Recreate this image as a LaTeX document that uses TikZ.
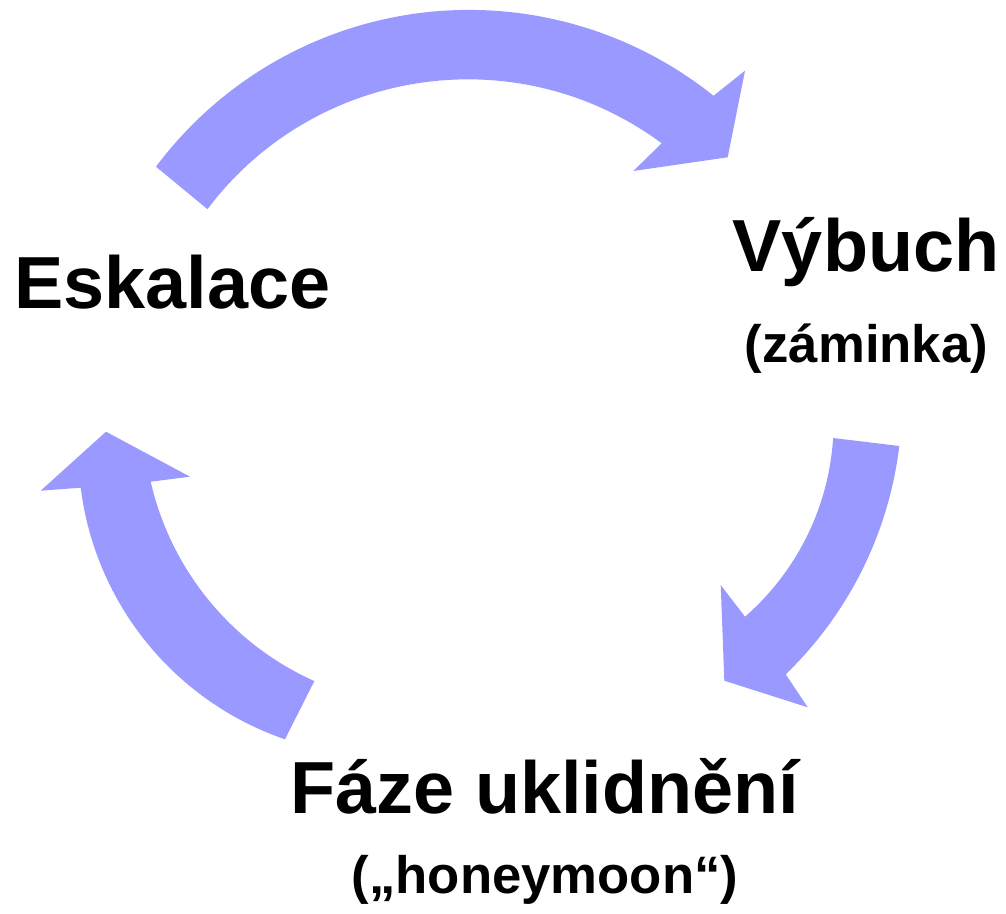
\documentclass[tikz,border=0pt]{standalone}
\usepackage{fontspec}
\setmainfont{Liberation Sans}
\definecolor{arrowblue}{RGB}{153,153,255}
\tikzset{
  arrowfill/.style={fill=arrowblue},
  bigtext/.style={anchor=base,inner sep=0pt,font=\fontsize{42}{50}\selectfont\bfseries},
  smalltext/.style={anchor=base,inner sep=0pt,font=\fontsize{30}{36}\selectfont\bfseries}
}
\begin{document}
\begin{tikzpicture}[x=0.02cm,y=0.02cm]
\useasboundingbox (0,0) rectangle (1006,913);
% top arrow
\fill[arrowfill] (156,746.3) arc[start angle=143.2,end angle=51.3,radius=391]
  -- (745,842.3) -- (727.7,755.7) -- (633.3,742) -- (661.7,769.7)
  arc[start angle=53.5,end angle=143,radius=326] -- cycle;
% right arrow
\fill[arrowfill] (899.3,467) arc[start angle=-6.9,end angle=-46,radius=381]
  -- (807.7,205.7) -- (724.3,232.3) -- (720.7,328) -- (745,296.3)
  arc[start angle=-48.9,end angle=-3.6,radius=258.7] -- cycle;
% left arrow
\fill[arrowfill] (285,173.7) arc[start angle=251.05,end angle=187.1,radius=306]
  -- (40.7,422.3) -- (106,481.3) -- (190,436.3) -- (150.7,431.3)
  arc[start angle=192.9,end angle=245.85,radius=289.3] -- cycle;
% labels
\coordinate (P1) at (172.5,604);
\node[bigtext] (Esk) at (P1) {Eskalace};
\coordinate (P2) at (866,641);
\node[bigtext] (Vyb) at (P2) {Výbuch};
\coordinate (P3) at (866.5,550);
\node[smalltext] (Zam) at (P3) {(záminka)};
\coordinate (P4) at (545,100);
\node[bigtext] (Faz) at (P4) {Fáze uklidnění};
\coordinate (P5) at (545,20);
\node[smalltext] (Hon) at (P5) {(„honeymoon“)};
\end{tikzpicture}
\end{document}
